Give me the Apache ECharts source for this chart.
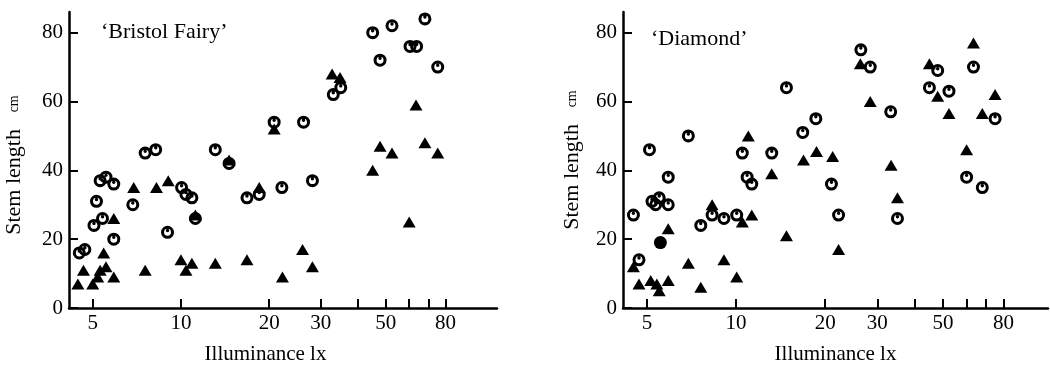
<!DOCTYPE html>
<html>
<head>
<meta charset="utf-8">
<script src="https://cdn.jsdelivr.net/npm/echarts@6/dist/echarts.min.js"></script>
<style>
html, body {margin: 0; padding: 0; background: #fff;}
#chart {width: 1050px; height: 370px;}
</style>
</head>
<body>
<div id="chart"></div>
<script>
const font = 'Liberation Serif';

// axis ticks (lux) and labels
const xTickLux = [5, 10, 20, 30, 40, 50, 60, 70, 80];
const xLabelLux = [5, 10, 20, 30, 50, 80];
const yTicks = [0, 20, 40, 60, 80];
const panelTitles = ['‘Bristol Fairy’', '‘Diamond’'];

// 'Bristol Fairy': open circles
const bristolRingLux = [4.5, 4.7, 5.05, 5.15, 5.3, 5.4, 5.55, 5.9, 5.9, 6.85, 7.55, 8.2, 9.0, 10.05, 10.4, 10.9, 11.2,
    13.1, 14.6, 16.8, 18.5, 20.8, 22.1, 26.2, 28.1, 33.1, 35.1, 45.1, 47.8, 52.5, 60.5, 63.7, 68, 75.2];
const bristolRingLen = [16, 17, 24, 31, 37, 26, 38, 36, 20, 30, 45, 46, 22, 35, 33, 32, 26,
    46, 42, 32, 33, 54, 35, 54, 37, 62, 64, 80, 72, 82, 76, 76, 84, 70];
// 'Bristol Fairy': filled triangles
const bristolTriLux = [4.45, 4.65, 5.0, 5.2, 5.3, 5.45, 5.55, 5.9, 5.9, 6.9, 7.55, 8.25, 9.05, 10, 10.4, 10.9, 11.2,
    13.1, 14.6, 16.8, 18.5, 20.8, 22.2, 26.0, 28.1, 32.8, 34.9, 45.1, 47.8, 52.5, 60.1, 63.4, 68, 75.2];
const bristolTriLen = [7, 11, 7, 9, 11, 16, 12, 9, 26, 35, 11, 35, 37, 14, 11, 13, 27,
    13, 43, 14, 35, 52, 9, 17, 12, 68, 67, 40, 47, 45, 25, 59, 48, 45];

// 'Diamond': open circles
const diamondRingLux = [4.5, 4.7, 5.1, 5.2, 5.35, 5.5, 5.9, 5.9, 6.9, 7.6, 8.3, 9.1, 10.05, 10.5, 10.9, 11.3,
    13.2, 14.8, 16.8, 18.6, 21.0, 22.2, 26.4, 28.4, 33.3, 35.1, 45, 48, 52.4, 60.1, 63.4, 67.9, 75];
const diamondRingLen = [27, 14, 46, 31, 30, 32, 30, 38, 50, 24, 27, 26, 27, 45, 38, 36,
    45, 64, 51, 55, 36, 27, 75, 70, 57, 26, 64, 69, 63, 38, 70, 35, 55];
// 'Diamond': filled triangles
const diamondTriLux = [4.5, 4.7, 5.15, 5.4, 5.5, 5.9, 5.9, 6.9, 7.6, 8.3, 9.1, 10.05, 10.5, 11.0, 11.3,
    13.2, 14.8, 16.9, 18.7, 21.2, 22.2, 26.3, 28.4, 33.4, 35.1, 45, 48, 52.4, 60.1, 63.4, 67.9, 75];
const diamondTriLen = [12, 7, 8, 7, 5, 8, 23, 13, 6, 30, 14, 9, 25, 50, 27,
    39, 21, 43, 45.5, 44, 17, 71, 60, 41.5, 32, 71, 61.5, 56.5, 46, 77, 56.5, 62];
// 'Diamond': filled circle
const diamondDotLux = [5.55];
const diamondDotLen = [19];

// x range of each panel (lux)
const xMinLux = [4.15, 4.15];
const xMaxLux = [119.8, 113.2];

// log10 axis: values go on a linear value axis in log space so ticks can sit at 5, 10, 20 ...
const lg = Math.log10;
const pairs = (lux, len) => lux.map((v, i) => [lg(v), len[i]]);

// thick ring with a dark mark inside, as printed
const ringSymbol = 'path://M12,0A12,12,0,1,0,12,24A12,12,0,1,0,12,0Z' +
    'M12,5.6A6.4,6.4,0,1,1,12,18.4A6.4,6.4,0,1,1,12,5.6Z' +
    'M12,5.4A3.2,3.2,0,1,0,12,11.8A3.2,3.2,0,1,0,12,5.4Z';

const black = '#000';
const axisLine = {show: true, onZero: false, lineStyle: {color: black, width: 2.5}};

const grids = [
    {left: 69, top: 12, width: 428, height: 300},
    {left: 623, top: 12, width: 425, height: 300},
];

const xAxes = grids.map((g, i) => ({
    gridIndex: i,
    type: 'value',
    min: lg(xMinLux[i]),
    max: lg(xMaxLux[i]),
    axisLine,
    axisTick: {show: true, inside: true, length: 9, lineStyle: {color: black, width: 2},
        customValues: xTickLux.map(lg)},
    axisLabel: {customValues: xLabelLux.map(lg), formatter: v => String(Math.round(10 ** v)),
        color: black, fontFamily: font, fontSize: 21, margin: 5},
    splitLine: {show: false},
    name: 'Illuminance lx',
    nameLocation: 'middle',
    nameGap: 36,
    nameTextStyle: {color: black, fontFamily: font, fontSize: 21, padding: i === 0 ? [0, 35, 0, 0] : 0},
}));

const yAxes = grids.map((g, i) => ({
    gridIndex: i,
    type: 'value',
    min: 0,
    max: 86,
    axisLine,
    axisTick: {show: true, inside: true, length: 9, lineStyle: {color: black, width: 2}, customValues: yTicks},
    axisLabel: {customValues: yTicks, color: black, fontFamily: font, fontSize: 21, margin: 6},
    splitLine: {show: false},
    name: '{a|Stem length}     {b|cm}',
    nameLocation: 'middle',
    nameGap: i === 0 ? 44 : 40,
    nameTextStyle: {
        color: black,
        padding: i === 0 ? [0, 10, 0, 0] : 0,
        rich: {
            a: {fontFamily: font, fontSize: 22, color: black},
            b: {fontFamily: font, fontSize: 14, color: black},
        },
    },
}));

const ring = (lux, len, i) => ({
    type: 'scatter', xAxisIndex: i, yAxisIndex: i,
    symbol: ringSymbol, symbolSize: 13, symbolKeepAspect: true,
    itemStyle: {color: black, opacity: 1},
    data: pairs(lux, len),
});
const tri = (lux, len, i) => ({
    type: 'scatter', xAxisIndex: i, yAxisIndex: i,
    symbol: 'triangle', symbolSize: [13, 11],
    itemStyle: {color: black, opacity: 1},
    data: pairs(lux, len),
});

const chart = echarts.init(document.getElementById('chart'), null, {renderer: 'canvas'});
chart.setOption({
    animation: false,
    backgroundColor: '#fff',
    title: [
        {text: panelTitles[0], left: 101, top: 21, padding: 0,
            textStyle: {fontFamily: font, fontSize: 22, fontWeight: 'normal', color: black}},
        {text: panelTitles[1], left: 651, top: 28, padding: 0,
            textStyle: {fontFamily: font, fontSize: 22, fontWeight: 'normal', color: black}},
    ],
    grid: grids,
    xAxis: xAxes,
    yAxis: yAxes,
    series: [
        tri(bristolTriLux, bristolTriLen, 0),
        ring(bristolRingLux, bristolRingLen, 0),
        tri(diamondTriLux, diamondTriLen, 1),
        ring(diamondRingLux, diamondRingLen, 1),
        {
            type: 'scatter', xAxisIndex: 1, yAxisIndex: 1,
            symbol: 'circle', symbolSize: 13,
            itemStyle: {color: black, opacity: 1},
            data: pairs(diamondDotLux, diamondDotLen),
        },
    ],
});
</script>
</body>
</html>
